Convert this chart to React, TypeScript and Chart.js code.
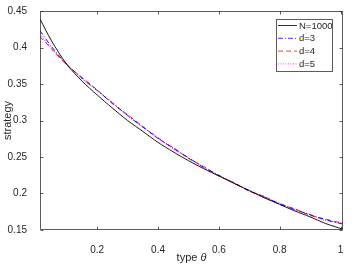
import React, { useEffect, useRef } from "react";
import { Chart, registerables } from "chart.js";

Chart.register(...registerables);

const theta = [0.012, 0.05, 0.1, 0.15, 0.2, 0.25, 0.3, 0.35, 0.4, 0.45, 0.5, 0.55, 0.6, 0.65, 0.7, 0.75, 0.8, 0.85, 0.9, 0.95, 1.008];
const n1000 = [0.439, 0.409, 0.377, 0.354, 0.335, 0.317, 0.300, 0.285, 0.270, 0.257, 0.245, 0.234, 0.224, 0.214, 0.204, 0.194, 0.185, 0.176, 0.168, 0.159, 0.151];
const d3 = [0.423, 0.401, 0.377, 0.358, 0.341, 0.324, 0.307, 0.291, 0.276, 0.262, 0.249, 0.236, 0.225, 0.214, 0.204, 0.195, 0.186, 0.178, 0.171, 0.164, 0.158];
const d4 = [0.415, 0.398, 0.376, 0.359, 0.342, 0.323, 0.308, 0.292, 0.275, 0.263, 0.248, 0.237, 0.224, 0.215, 0.203, 0.196, 0.185, 0.179, 0.170, 0.165, 0.159];
const d5 = [0.418, 0.399, 0.377, 0.357, 0.341, 0.325, 0.306, 0.291, 0.277, 0.261, 0.249, 0.235, 0.225, 0.213, 0.204, 0.194, 0.187, 0.177, 0.171, 0.163, 0.160];

const xTicks = [0.2, 0.4, 0.6, 0.8, 1];
const yTicks = [0.15, 0.2, 0.25, 0.3, 0.35, 0.4, 0.45];
const xRange = [0.012, 1.008];
const yRange = [0.15, 0.45];

const seriesNames = ["N=1000", "d=3", "d=4", "d=5"];
const seriesColors = ["#000000", "#0000ff", "#ff0000", "#ff00ff"];
const seriesDash: number[][] = [[], [5, 2, 1, 2], [5, 3], [1, 1.5]];
const seriesValues = [n1000, d3, d4, d5];

const AXIS = "#262626";
const FONT = "Liberation Sans, Arial, sans-serif";

const framePlugin = {
  id: "frame",
  afterDatasetsDraw(chart: any) {
    const { ctx, chartArea: a, scales } = chart;
    const L = Math.round(a.left) + 0.5, R = Math.round(a.right) - 0.5;
    const T = Math.round(a.top) + 0.5, B = Math.round(a.bottom) - 0.5;
    ctx.save();
    ctx.strokeStyle = AXIS;
    ctx.lineWidth = 1;
    ctx.globalAlpha = 0.75;
    ctx.beginPath();
    ctx.rect(L, T, R - L, B - T);
    ctx.stroke();
    ctx.beginPath();
    for (const v of xTicks) {
      const x = Math.round(scales.x.getPixelForValue(v)) + 0.5;
      ctx.moveTo(x, B); ctx.lineTo(x, B - 3);
      ctx.moveTo(x, T); ctx.lineTo(x, T + 3);
    }
    for (const v of yTicks) {
      const y = Math.round(scales.y.getPixelForValue(v)) + 0.5;
      ctx.moveTo(L, y); ctx.lineTo(L + 3, y);
      ctx.moveTo(R, y); ctx.lineTo(R - 3, y);
    }
    ctx.stroke();
    ctx.globalAlpha = 1;

    // axis titles
    ctx.fillStyle = AXIS;
    ctx.textBaseline = "middle";
    const cx = (a.left + a.right) / 2;
    const t1 = "type ";
    ctx.font = `11px ${FONT}`;
    const w1 = ctx.measureText(t1).width;
    ctx.font = `italic 11px ${FONT}`;
    const w2 = ctx.measureText("θ").width;
    const sx = cx - (w1 + w2) / 2;
    ctx.textAlign = "left";
    ctx.font = `11px ${FONT}`;
    ctx.fillText(t1, sx, 257.5);
    ctx.font = `italic 11px ${FONT}`;
    ctx.fillText("θ", sx + w1, 257.5);

    ctx.save();
    ctx.translate(8, (a.top + a.bottom) / 2);
    ctx.rotate(-Math.PI / 2);
    ctx.textAlign = "center";
    ctx.font = `11px ${FONT}`;
    ctx.fillText("strategy", 0, 0);
    ctx.restore();

    // legend
    const lx = 276.5, ly = 19.5, lw = 56, lh = 52;
    ctx.fillStyle = "#ffffff";
    ctx.fillRect(lx, ly, lw, lh);
    ctx.strokeStyle = AXIS;
    ctx.globalAlpha = 0.75;
    ctx.strokeRect(lx, ly, lw, lh);
    ctx.globalAlpha = 1;
    ctx.font = `9.5px ${FONT}`;
    ctx.textAlign = "left";
    for (let i = 0; i < seriesNames.length; i++) {
      const y = 25.5 + i * 12.8;
      ctx.strokeStyle = seriesColors[i];
      ctx.lineWidth = 0.8;
      ctx.setLineDash(seriesDash[i]);
      ctx.beginPath();
      ctx.moveTo(278, y); ctx.lineTo(297, y);
      ctx.stroke();
      ctx.setLineDash([]);
      ctx.fillStyle = AXIS;
      ctx.fillText(seriesNames[i], 299, y + 0.5);
    }
    ctx.restore();
  },
};

export default function App() {
  const ref = useRef<HTMLCanvasElement>(null);
  useEffect(() => {
    if (!ref.current) return;
    const datasets = seriesValues.map((vals, i) => ({
      label: seriesNames[i],
      data: theta.map((t, j) => ({ x: t, y: vals[j] })),
      borderColor: seriesColors[i],
      borderWidth: 0.9,
      borderDash: seriesDash[i],
      pointRadius: 0,
      fill: false,
      tension: 0.3,
    }));
    const chart = new Chart(ref.current, {
      type: "line",
      data: { datasets },
      plugins: [framePlugin],
      options: {
        responsive: false,
        animation: false,
        layout: { padding: { left: 0, right: 14, top: 11, bottom: 0 } },
        plugins: { legend: { display: false }, tooltip: { enabled: false } },
        scales: {
          x: {
            type: "linear",
            min: xRange[0],
            max: xRange[1],
            afterBuildTicks: (s: any) => { s.ticks = xTicks.map((v) => ({ value: v })); },
            afterFit: (s: any) => { s.height = 38; },
            grid: { display: false },
            border: { display: false },
            ticks: {
              color: AXIS,
              font: { size: 10, family: FONT },
              padding: 6,
              maxRotation: 0,
              autoSkip: false,
              callback: (v: any) => String(Number(v)),
            },
          },
          y: {
            type: "linear",
            min: yRange[0],
            max: yRange[1],
            afterBuildTicks: (s: any) => { s.ticks = yTicks.map((v) => ({ value: v })); },
            afterFit: (s: any) => { s.width = 40; },
            grid: { display: false },
            border: { display: false },
            ticks: {
              color: AXIS,
              font: { size: 10, family: FONT },
              padding: 5,
              autoSkip: false,
              callback: (v: any) => String(Number(v)),
            },
          },
        },
      },
    });
    return () => chart.destroy();
  }, []);
  return (
    <div style={{ position: "absolute", left: 0, top: 0, width: 357, height: 268, background: "#fff" }}>
      <canvas ref={ref} width={357} height={268} />
    </div>
  );
}
